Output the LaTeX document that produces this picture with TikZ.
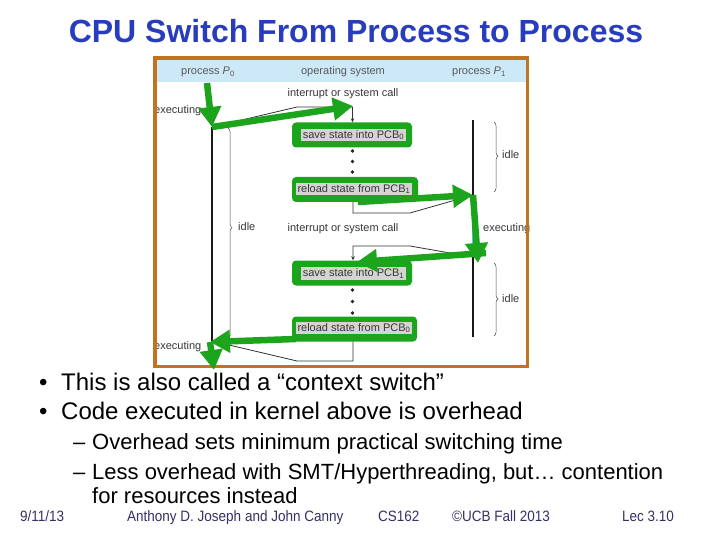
\documentclass[tikz,border=0pt]{standalone}
\usepackage{fontspec}
\setmainfont{Liberation Sans}
\newfontfamily\footfont[FakeStretch=0.9]{Liberation Sans}
\usetikzlibrary{arrows.meta,decorations.pathreplacing}
\definecolor{titleblue}{RGB}{40,60,190}
\definecolor{frameor}{RGB}{195,115,30}
\definecolor{hdrblue}{RGB}{205,232,247}
\definecolor{grn}{RGB}{28,165,28}
\definecolor{boxgray}{RGB}{212,212,212}
\definecolor{dtext}{RGB}{55,55,55}
\definecolor{foot}{RGB}{50,50,100}
\definecolor{execblue}{RGB}{100,190,230}
\begin{document}
\begin{tikzpicture}[x=1pt,y=-1pt,
  lbl/.style={font=\fontsize{11}{13}\selectfont, text=dtext, inner sep=0pt},
  greenbg/.style={fill=grn, rounded corners=4pt, minimum width=#1, minimum height=25pt, inner sep=0pt},
  graybox/.style={fill=boxgray, font=\fontsize{11}{13}\selectfont, text=dtext, inner sep=1.5pt, minimum height=12.5pt},
  garrow/.style={draw=grn, line width=6.5pt, -{Triangle[length=20pt,width=22pt]}},
  osline/.style={draw=black!80, line width=0.8pt},
  ostip/.style={osline, -{Stealth[length=4pt,width=3.5pt]}},
  timeline/.style={draw=black!90, line width=2pt},
  bracestyle/.style={draw=black!70, line width=0.5pt, decorate, decoration={brace, amplitude=4pt, aspect=#1}},
  bigtext/.style={anchor=base west, inner sep=0pt, font=\fontsize{24}{28}\selectfont},
  subtext/.style={anchor=base west, inner sep=0pt, font=\fontsize{22}{26}\selectfont},
  foottext/.style={anchor=base west, inner sep=0pt, text=foot, font=\footfont\fontsize{15}{17}\selectfont}]
\useasboundingbox (0,0) rectangle (720,540);
\fill[white] (0,0) rectangle (720,540);

% title
\node[anchor=base, inner sep=0pt, text=titleblue, font=\fontsize{32}{38}\selectfont\bfseries] (title) at (356,43) {CPU Switch From Process to Process};

% header band
\fill[hdrblue] (156,60) rectangle (526,82);
\node[lbl, anchor=base, text=black!65] (hp0) at (208,75) {process \textit{P}\textsubscript{0}};
\node[lbl, anchor=base, text=black!65] (hos) at (343,75) {operating system};
\node[lbl, anchor=base, text=black!65] (hp1) at (479,75) {process \textit{P}\textsubscript{1}};

% labels
\node[lbl, anchor=base] (int1) at (343,97) {interrupt or system call};
\node[lbl, anchor=base] (int2) at (343,232) {interrupt or system call};
\node[lbl, anchor=base west] (ex1) at (154,114) {executing};
\node[lbl, anchor=base west] (ex2) at (154,349) {executing};
\node[lbl, anchor=base west] (ex3) at (483,232) {executing};
\node[lbl, anchor=base west] (idl) at (238,230) {idle};
\node[lbl, anchor=base west] (idr1) at (502,159) {idle};
\node[lbl, anchor=base west] (idr2) at (502,302) {idle};

% timelines
\coordinate (p0a) at (212,127);
\coordinate (p0b) at (212,341);
\coordinate (p1a) at (473,120);
\coordinate (p1b) at (473,195);
\coordinate (p1c) at (473,257);
\coordinate (p1d) at (473,337);
\draw[timeline] (p0a) -- (p0b);
\draw[timeline] (p1a) -- (p1b);
\draw[timeline] (p1c) -- (p1d);
\draw[draw=execblue, line width=1.5pt] (p1b) -- (p1c);

% braces
\draw[bracestyle=0.47] (228,128) -- (228,340);
\draw[bracestyle=0.49] (494,122) -- (494,192);
\draw[bracestyle=0.49] (494,263) -- (494,336);

% green box backgrounds
\node[greenbg=120pt] (g0) at (352,135) {};
\node[greenbg=126pt] (g1) at (355,189.5) {};
\node[greenbg=120pt] (g2) at (352,273) {};
\node[greenbg=125pt] (g3) at (354.5,329) {};
% gray boxes
\node[graybox] (s0) at (353.5,135) {save state into PCB\textsubscript{0}};
\node[graybox] (r1) at (354,189) {reload state from PCB\textsubscript{1}};
\node[graybox] (s1) at (353.5,273.5) {save state into PCB\textsubscript{1}};
\node[graybox] (r0) at (354,328) {reload state from PCB\textsubscript{0}};

% dots
\foreach \yy in {151,161.5,172,290,301.5,313} \fill[black!85] (352.5,\yy) circle (1.8pt);

% OS lines
\coordinate (b1a) at (297,107);
\coordinate (b1b) at (352.5,107);
\draw[ostip] (p0a) -- (b1a) -- (b1b) -- (b1b |- g0.north);
\coordinate (b2a) at (353,213);
\coordinate (b2b) at (410,213);
\draw[ostip] (b2a |- g1.south) -- (b2a) -- (b2b) -- (p1b);
\coordinate (b3a) at (410,246);
\coordinate (b3b) at (353,246);
\draw[ostip] (p1c) -- (b3a) -- (b3b) -- (b3b |- g2.north);
\coordinate (b4a) at (353,361);
\coordinate (b4b) at (297,361);
\draw[ostip] (b4a |- g3.south) -- (b4a) -- (b4b) -- (p0b);

% frame
\draw[frameor, line width=3.8pt] (155,58) rectangle (527.5,366.5);

% green arrows
\coordinate (a1s) at (207,83);
\coordinate (a2t) at (353,106);
\coordinate (a3s) at (358,202);
\coordinate (a4t) at (478,263);
\coordinate (a5s) at (486,253);
\coordinate (a5t) at (357,262);
\coordinate (a6s) at (296,339);
\coordinate (a6t) at (210,342);
\coordinate (a7t) at (214,370);
\draw[garrow] (a1s) -- (p0a);
\draw[garrow] (p0a) -- (a2t);
\draw[garrow] (a3s) -- (p1b);
\draw[garrow] (p1b) -- (a4t);
\draw[garrow] (a5s) -- (a5t);
\draw[garrow] (a6s) -- (a6t);
\draw[garrow] (a6t) -- (a7t);

% bullets
\node[bigtext] (d1) at (39,390) {•};
\node[bigtext] (t1) at (61,390) {This is also called a “context switch”};
\node[bigtext] (d2) at (39,419) {•};
\node[bigtext] (t2) at (61,419) {Code executed in kernel above is overhead};
\node[subtext] (e1) at (73,449) {–};
\node[subtext] (u1) at (92,449) {Overhead sets minimum practical switching time};
\node[subtext] (e2) at (73,479) {–};
\node[subtext] (u2) at (92,479) {Less overhead with SMT/Hyperthreading, but… contention};
\node[subtext] (u3) at (92,503) {for resources instead};

% footer
\node[foottext] (f1) at (20,521) {9/11/13};
\node[foottext] (f2) at (127,521) {Anthony D. Joseph and John Canny};
\node[foottext] (f3) at (378,521) {CS162};
\node[foottext] (f4) at (452,521) {©UCB Fall 2013};
\node[foottext] (f5) at (622,521) {Lec 3.10};
\end{tikzpicture}
\end{document}
